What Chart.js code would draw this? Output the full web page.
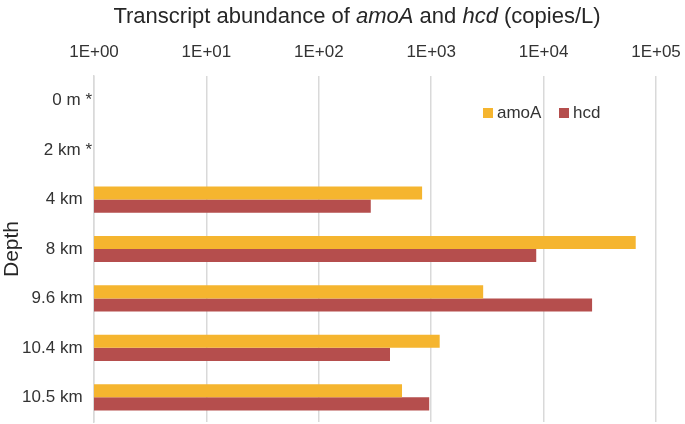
<!DOCTYPE html>
<html>
<head>
<meta charset="utf-8">
<script src="https://cdn.jsdelivr.net/npm/chart.js@4.4.1/dist/chart.umd.min.js"></script>
<style>
  html, body { margin: 0; padding: 0; background: #fff; }
  #wrap { position: relative; width: 685px; height: 424px; }
  #title {
    position: absolute; left: 0; top: 3px; width: 714px; text-align: center;
    font-family: "Liberation Sans", Arial, sans-serif; font-size: 22px; color: #262626;
  }
</style>
</head>
<body>
<div id="wrap">
  <canvas id="chart" width="685" height="424"></canvas>
  <div id="title">Transcript abundance of <i>amoA</i> and <i>hcd</i> (copies/L)</div>
</div>
<script>
// ---------------- DATA ----------------
const depths = ["0 m *", "2 km *", "4 km", "8 km", "9.6 km", "10.4 km", "10.5 km"];
const amoA = [null, null, 830, 66000, 2900, 1190, 550];
const hcd = [null, null, 290, 8600, 27000, 430, 960];
const tickValues = [1, 10, 100, 1000, 10000, 100000];
const tickLabels = ["1E+00", "1E+01", "1E+02", "1E+03", "1E+04", "1E+05"];

const FONT = "'Liberation Sans', Arial, sans-serif";
const colAmoA = "#F5B52F";
const colHcd = "#B54E4D";
const textCol = "#333333";

// legend sits inside the plot, like the original
const innerLegend = {
  id: "innerLegend",
  afterDraw(chart) {
    const ctx = chart.ctx;
    const xs = [483, 559];
    ctx.save();
    ctx.font = "17px " + FONT;
    ctx.textBaseline = "middle";
    chart.data.datasets.forEach((ds, i) => {
      ctx.fillStyle = ds.backgroundColor;
      ctx.fillRect(xs[i], 108, 10, 10);
      ctx.fillStyle = textCol;
      ctx.fillText(ds.label, xs[i] + 14, 113);
    });
    ctx.restore();
  }
};

new Chart(document.getElementById("chart"), {
  type: "bar",
  data: {
    labels: depths,
    datasets: [
      { label: "amoA", data: amoA, backgroundColor: colAmoA, categoryPercentage: 0.53, barPercentage: 1 },
      { label: "hcd", data: hcd, backgroundColor: colHcd, categoryPercentage: 0.53, barPercentage: 1 }
    ]
  },
  options: {
    indexAxis: "y",
    responsive: false,
    animation: false,
    layout: { padding: { right: 29, bottom: 2, left: 0, top: 0 } },
    plugins: {
      legend: { display: false },
      title: { display: false },
      tooltip: { enabled: false }
    },
    scales: {
      x: {
        type: "logarithmic",
        position: "top",
        min: 1,
        max: 100000,
        afterBuildTicks: scale => {
          scale.ticks = tickValues.map(v => ({ value: v, major: true }));
        },
        afterFit: scale => {
          scale.height = 76;
          scale.paddingLeft = 0;
          scale.paddingRight = 0;
        },
        ticks: {
          autoSkip: false,
          maxRotation: 0,
          padding: 13,
          color: textCol,
          font: { family: FONT, size: 17 },
          callback: (v) => tickLabels[tickValues.indexOf(v)]
        },
        grid: { color: "#d9d9d9", lineWidth: 1.5, drawTicks: false },
        border: { display: false }
      },
      y: {
        afterFit: scale => {
          scale.width = 94;
          scale.paddingTop = 0;
          scale.paddingBottom = 0;
        },
        ticks: {
          padding: 2,
          color: textCol,
          font: { family: FONT, size: 17 },
          callback: function (v) {
            const s = this.getLabelForValue(v);
            return s.includes("*") ? s : s + "  ";
          }
        },
        grid: { display: false, drawTicks: false },
        border: { display: true, color: "#d9d9d9", width: 1.5 },
        title: {
          display: true,
          text: "Depth",
          color: "#262626",
          font: { family: FONT, size: 21 },
          padding: { top: 0, bottom: 0 }
        }
      }
    }
  },
  plugins: [innerLegend]
});
</script>
</body>
</html>
